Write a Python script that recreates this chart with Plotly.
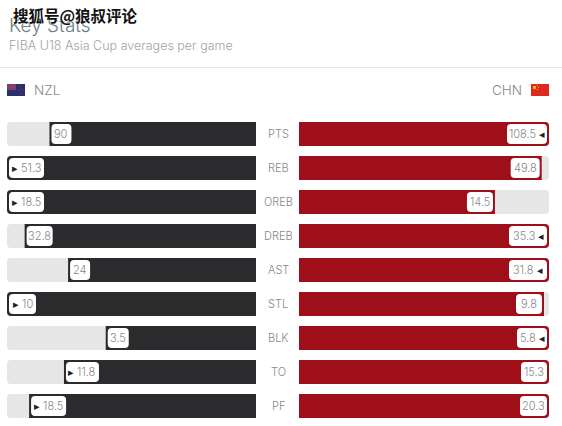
import plotly.graph_objects as go

W, H = 562, 426
stats = ["PTS", "REB", "OREB", "DREB", "AST", "STL", "BLK", "TO", "PF"]
nzl = [90, 51.3, 18.5, 32.8, 24, 10, 3.5, 11.8, 18.5]
chn = [108.5, 49.8, 14.5, 35.3, 31.8, 9.8, 5.8, 15.3, 20.3]
nzl_leader = [False, True, True, False, False, True, False, True, True]
chn_leader = [True, False, False, True, True, False, True, False, False]
nzl_box_px = [20, 35, 35, 26, 20, 27, 21, 33, 35]
chn_box_px = [40, 29, 26, 38, 38, 26, 30, 26, 27]

FONT = "Inter"
TXT = "#888888"
DARK = "#2b2b2d"
RED = "#9e0f19"
TRACK = "#e6e6e6"

scale = [max(a, b) for a, b in zip(nzl, chn)]
nzl_n = [a / s for a, s in zip(nzl, scale)]
chn_n = [b / s for b, s in zip(chn, scale)]

LEFT_PX = 249.0
RIGHT_PX = 250.0
GAP = 2

fig = go.Figure()

def bar(x, xaxis, color, width=0.706, base=None, radius=4):
    fig.add_trace(go.Bar(
        y=stats, x=x, base=base, orientation="h", xaxis=xaxis, yaxis="y",
        width=width, hoverinfo="skip", showlegend=False,
        marker=dict(color=color, line_width=0, cornerradius=radius),
    ))

bar([1] * 9, "x", TRACK)
bar(nzl_n, "x", DARK)
bar([w / LEFT_PX for w in nzl_box_px], "x", "#ffffff", width=0.59,
    base=[v - GAP / LEFT_PX - w / LEFT_PX for v, w in zip(nzl_n, nzl_box_px)])
bar([1] * 9, "x2", TRACK)
bar(chn_n, "x2", RED)
bar([w / RIGHT_PX for w in chn_box_px], "x2", "#ffffff", width=0.59,
    base=[v - GAP / RIGHT_PX - w / RIGHT_PX for v, w in zip(chn_n, chn_box_px)])

def note(text, x, y, size=11, anchor="center", color=TXT, xref="paper", yref="paper", xshift=0,
         family=FONT, weight=300, shadow=None):
    font = dict(family=family, size=size, color=color, weight=weight)
    if shadow:
        font["shadow"] = shadow
    fig.add_annotation(text=text, x=x, y=y, xref=xref, yref=yref, xshift=xshift,
                       showarrow=False, xanchor=anchor, yanchor="middle", font=font)

ARROW = "<span style='color:#222'>%s</span>"
for i, s in enumerate(stats):
    note(s, 278 / W, s, yref="y", size=11)
    label = (ARROW % "▸") + " " + str(nzl[i]) if nzl_leader[i] else str(nzl[i])
    note(label, nzl_n[i], s, xref="x", yref="y", xshift=GAP + nzl_box_px[i] / 2)
    label = str(chn[i]) + " " + (ARROW % "◂") if chn_leader[i] else str(chn[i])
    note(label, chn_n[i], s, xref="x2", yref="y", xshift=-GAP - chn_box_px[i] / 2)

px = lambda v: v / W
py = lambda v: 1 - v / H

note("Key Stats", px(7), py(26), size=19, anchor="left", color="#6f7f88")
note("FIBA U18 Asia Cup averages per game", px(7), py(45.5), size=12.5, anchor="left", color="#a3a3a3")
note("NZL", px(32), py(90), size=13.5, anchor="left")
note("CHN", px(524), py(90), size=13.5, anchor="right")
note("搜狐号@狼叔评论", px(11), py(15), size=15.5, anchor="left", color="#111111",
     family="Noto Sans CJK SC", weight=700, shadow="0 0 2px #ffffff")

def rect(x0, y0, x1, y1, color):
    return dict(type="rect", xref="paper", yref="paper", x0=px(x0), x1=px(x1), y0=py(y0), y1=py(y1),
                fillcolor=color, line_width=0, layer="above")

shapes = [
    rect(0, 67, W, 68, "#e6e6e6"),
    rect(7, 84, 25, 96, "#2a2f6e"),
    rect(7, 84, 16, 90, "#5a4a7d"),
    rect(7, 86.5, 16, 87.5, "#d8283c"),
    rect(11, 84, 12, 90, "#d8283c"),
    rect(20, 86, 21, 87, "#c8283c"),
    rect(22, 89, 23, 90, "#c8283c"),
    rect(19, 90, 20, 91, "#c8283c"),
    rect(21, 93, 22, 94, "#c8283c"),
    rect(531, 84, 549, 96, "#de2920"),
    rect(533, 86, 536, 89, "#f5b21b"),
    rect(537, 85, 538, 86, "#f5b21b"),
    rect(538, 87, 539, 88, "#f5b21b"),
    rect(537, 89, 538, 90, "#f5b21b"),
]

fig.update_layout(
    width=W, height=H, margin=dict(l=0, r=0, t=0, b=0, pad=0),
    paper_bgcolor="#ffffff", plot_bgcolor="#ffffff",
    barmode="overlay", shapes=shapes, showlegend=False,
    xaxis=dict(domain=[px(7), px(256)], range=[1, 0], visible=False, fixedrange=True),
    xaxis2=dict(domain=[px(299), px(549)], range=[0, 1], visible=False, fixedrange=True, anchor="y"),
    yaxis=dict(domain=[py(423), py(117)], categoryorder="array", categoryarray=stats,
               range=[8.5, -0.5], visible=False, fixedrange=True),
)

fig.write_html("out.html", config={"displayModeBar": False},
               post_script="document.body.style.margin='0';document.documentElement.style.overflow='hidden';")
